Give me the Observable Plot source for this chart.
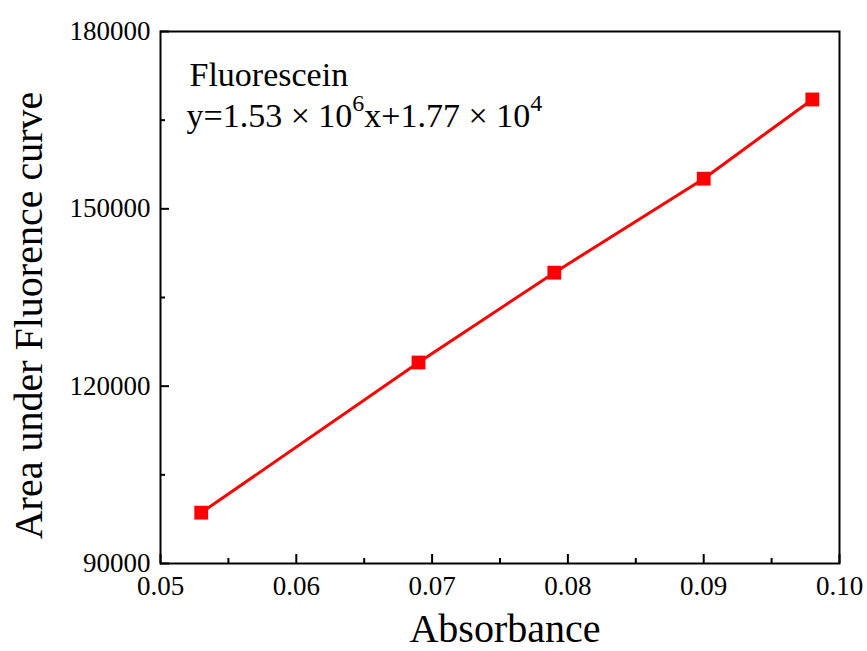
<!DOCTYPE html>
<html><head><meta charset="utf-8">
<script src="https://cdn.jsdelivr.net/npm/d3@7"></script>
<script src="https://cdn.jsdelivr.net/npm/@observablehq/plot@0.6"></script>
<style>
body{margin:0;background:#fff}
svg text, svg tspan { font-family: "Liberation Serif", "Times New Roman", serif !important; }
</style>
</head><body><div id="chart"></div>
<script>
const absorbance = [0.053, 0.069, 0.079, 0.090, 0.098];
const area = [98600, 124000, 139200, 155100, 168500];
const xMajorTicks = [0.05, 0.06, 0.07, 0.08, 0.09, 0.10];
const xMinorTicks = [0.055, 0.065, 0.075, 0.085, 0.095];
const yMajorTicks = [90000, 120000, 150000, 180000];
const yMinorTicks = [105000, 135000, 165000];
const xLabel = "Absorbance";
const yLabel = "Area under Fluorence curve";
const seriesName = "Fluorescein";
const equationParts = [
  {t: "y=1.53 × 10", sup: false},
  {t: "6", sup: true},
  {t: "x+1.77 × 10", sup: false},
  {t: "4", sup: true}
];

const data = absorbance.map((x, i) => ({x, y: area[i]}));
const eqString = equationParts.map(p => p.t).join("");
const font = "Liberation Serif, Times New Roman, serif";
const blank = () => "";

const axisMarks = [
  Plot.axisX(xMajorTicks, {anchor: "bottom", tickSize: -9, strokeWidth: 2, tickFormat: blank, label: null}),
  Plot.axisX(xMinorTicks, {anchor: "bottom", tickSize: -5, strokeWidth: 2, tickFormat: blank, label: null}),
  Plot.axisX(xMajorTicks, {anchor: "bottom", tickSize: 0, tickPadding: 12, fontSize: 27, fontFamily: font, fontVariant: "normal", tickFormat: d => d.toFixed(2), label: null}),
  Plot.axisY(yMajorTicks, {anchor: "left", tickSize: -9, strokeWidth: 2, tickFormat: blank, label: null}),
  Plot.axisY(yMinorTicks, {anchor: "left", tickSize: -5, strokeWidth: 2, tickFormat: blank, label: null}),
  Plot.axisY(yMajorTicks, {anchor: "left", tickSize: 0, tickPadding: 10, fontSize: 27, fontFamily: font, fontVariant: "normal", tickFormat: d => String(d), label: null})
];

const plot = Plot.plot({
  width: 867, height: 651,
  marginLeft: 160, marginRight: 28, marginTop: 31, marginBottom: 88,
  style: {fontFamily: font, background: "white", color: "black"},
  x: {domain: [0.05, 0.10]},
  y: {domain: [90000, 180000]},
  marks: [
    Plot.line(data, {x: "x", y: "y", stroke: "#ff0000", strokeWidth: 3}),
    Plot.dot(data, {x: "x", y: "y", symbol: "square", r: 7.8, fill: "#ff0000", stroke: null}),
    ...axisMarks,
    Plot.frame({stroke: "black", strokeWidth: 2}),
    Plot.text([seriesName], {frameAnchor: "top-left", textAnchor: "start", lineAnchor: "bottom", dx: 29, dy: 54, fontSize: 34, fontFamily: font}),
    Plot.text([eqString], {frameAnchor: "top-left", textAnchor: "start", lineAnchor: "bottom", dx: 26, dy: 95, fontSize: 34, fontFamily: font}),
    Plot.text([xLabel], {frameAnchor: "bottom", textAnchor: "middle", lineAnchor: "bottom", dx: 5, dy: 78, fontSize: 40, fontFamily: font}),
    Plot.text([yLabel], {frameAnchor: "left", textAnchor: "middle", lineAnchor: "middle", rotate: -90, dx: -131, dy: 18, fontSize: 40, fontFamily: font})
  ]
});

// rebuild the equation with real superscripts
d3.select(plot).selectAll("text").each(function() {
  if (this.textContent === eqString) {
    const t = d3.select(this);
    t.text(null);
    let shifted = false;
    for (const p of equationParts) {
      const ts = t.append("tspan").text(p.t);
      if (p.sup && !shifted) { ts.attr("dy", -16).attr("font-size", 24); shifted = true; }
      else if (!p.sup && shifted) { ts.attr("dy", 16); shifted = false; }
    }
  }
});

document.getElementById("chart").appendChild(plot);
</script>
</body></html>
